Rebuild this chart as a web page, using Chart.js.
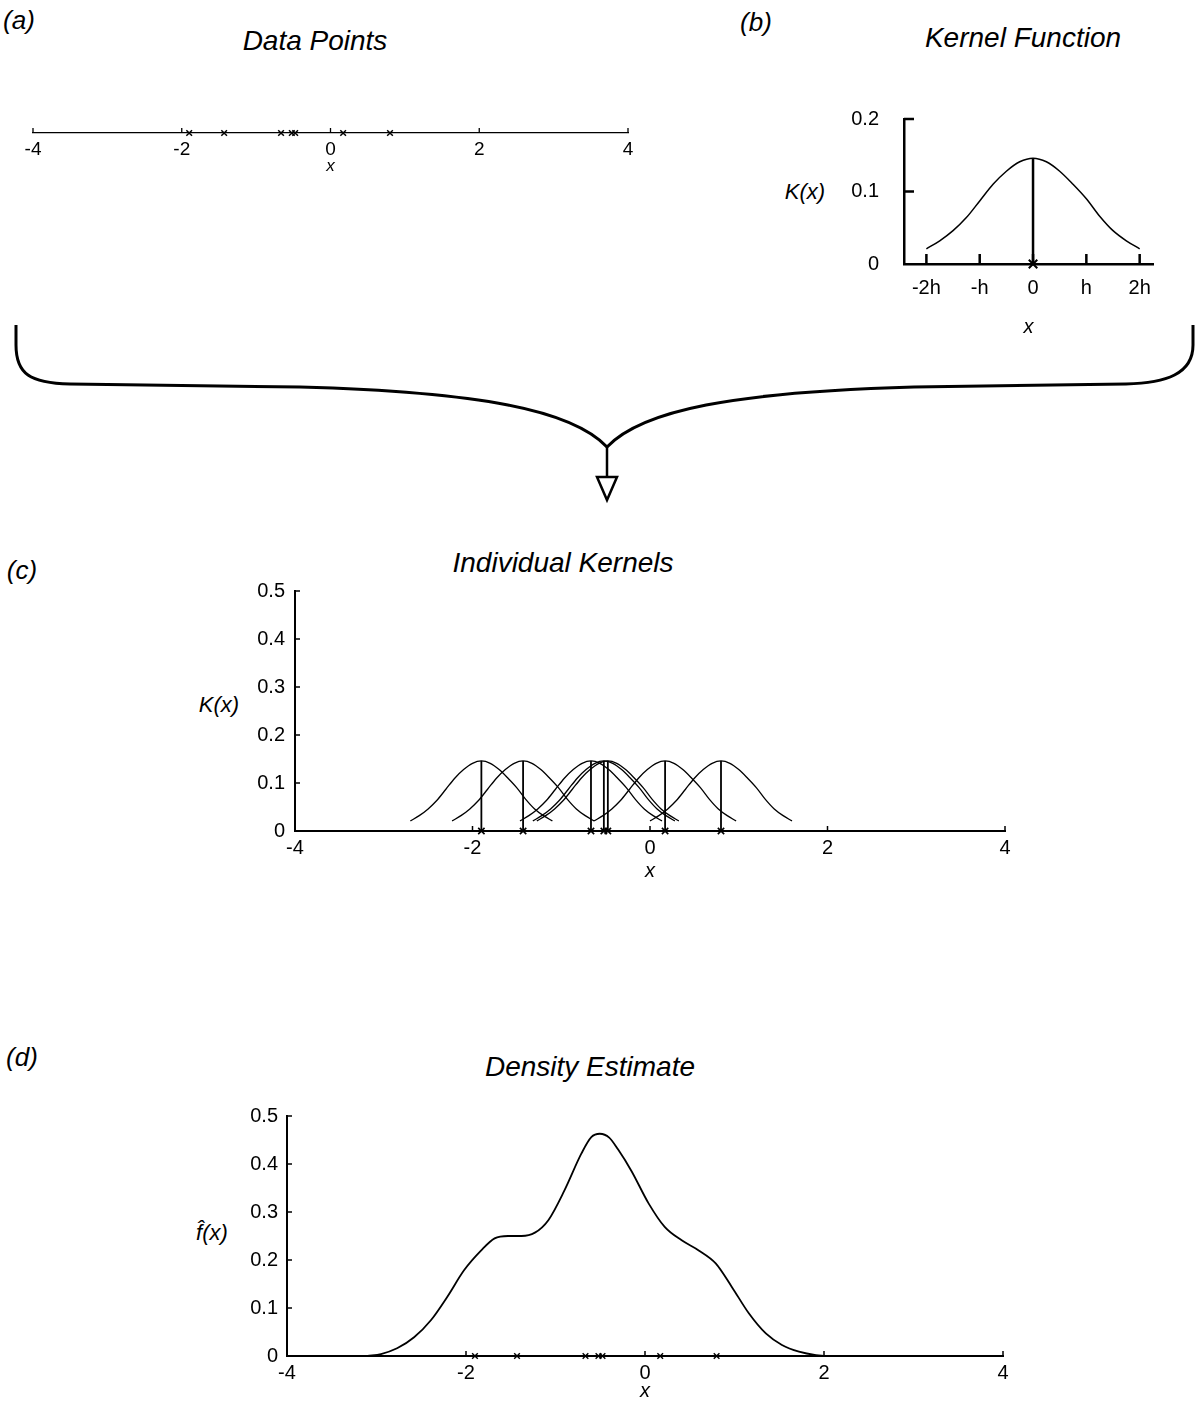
<!DOCTYPE html>
<html>
<head>
<meta charset="utf-8">
<title>Kernel density estimation</title>
<script src="https://cdn.jsdelivr.net/npm/chart.js@4.4.0/dist/chart.umd.min.js"></script>
<style>
  body { margin: 0; background: #fff; }
  #page { position: relative; width: 1196px; height: 1401px; overflow: hidden;
          font-family: 'Liberation Sans', Arial, sans-serif; color: #000; }
  .lbl { position: absolute; font-style: italic; white-space: nowrap; line-height: 1;
         transform: translate(-50%, -50%); }
  .ttl { font-size: 28px; }
  .pnl { font-size: 26px; }
  canvas { position: absolute; }
  svg { position: absolute; left: 0; top: 0; }
</style>
</head>
<body>
<div id="page">
  <div class="lbl pnl" style="left:19px;top:20px">(a)</div>
  <div class="lbl ttl" style="left:315px;top:41px">Data Points</div>
  <div class="lbl pnl" style="left:756px;top:22px">(b)</div>
  <div class="lbl ttl" style="left:1023px;top:38px">Kernel Function</div>
  <div class="lbl" style="left:805px;top:192px;font-size:22px">K(x)</div>
  <div class="lbl pnl" style="left:22px;top:570px">(c)</div>
  <div class="lbl ttl" style="left:563px;top:563px">Individual Kernels</div>
  <div class="lbl" style="left:219px;top:705px;font-size:22px">K(x)</div>
  <div class="lbl pnl" style="left:22px;top:1057px">(d)</div>
  <div class="lbl ttl" style="left:590px;top:1067px">Density Estimate</div>
  <div class="lbl" style="left:212px;top:1233px;font-size:22px">f&#770;(x)</div>

  <!-- brace joining (a) and (b) into (c) -->
  <svg width="1196" height="520">
    <path d="M16,325 L16,345 C16,374 30,383 70,384 L300,387 C480,392 572,410 607,447
             C642,410 734,392 914,387 L1126,384 C1166,383 1193,374 1193,345 L1193,325"
          fill="none" stroke="#000" stroke-width="3"/>
    <line x1="607" y1="447" x2="607" y2="477" stroke="#000" stroke-width="2.5"/>
    <path d="M597,477 L617,477 L607,500 Z" fill="#fff" stroke="#000" stroke-width="2.5"/>
  </svg>

  <canvas id="chartA" width="640" height="82" style="left:10px;top:100px"></canvas>
  <canvas id="chartB" width="340" height="258" style="left:840px;top:82px"></canvas>
  <canvas id="chartC" width="850" height="316" style="left:180px;top:569px"></canvas>
  <canvas id="chartD" width="850" height="306" style="left:180px;top:1095px"></canvas>
</div>
<script>
// the sample: x positions of the crosses
const dataPoints = [-1.9, -1.43, -0.665, -0.52, -0.475, 0.17, 0.8];

// kernel shape; offsets are in units of h
const kernelOffsets = [-2, -1.75, -1.5, -1.25, -1, -0.75, -0.5, -0.25, 0,
                       0.25, 0.5, 0.75, 1, 1.25, 1.5, 1.75, 2];
const kernelValues = [0.021, 0.032, 0.046, 0.064, 0.087, 0.110, 0.128, 0.141, 0.146,
                      0.141, 0.128, 0.110, 0.090, 0.066, 0.046, 0.032, 0.021];
const bandwidth = 0.4;   // h in x units, as seen in panel (c)

// summed density estimate
const densityX = [-3.1, -2.95, -2.77, -2.58, -2.39, -2.21, -2.02, -1.83, -1.68, -1.53,
                  -1.38, -1.23, -1.08, -0.9, -0.71, -0.6, -0.505, -0.4, -0.3, -0.15,
                  0.04, 0.22, 0.41, 0.6, 0.79, 0.97, 1.16, 1.35, 1.53, 1.72, 1.91, 2.1, 2.5];
const densityY = [0, 0.004, 0.016, 0.039, 0.075, 0.123, 0.179, 0.22, 0.245, 0.25,
                  0.25, 0.257, 0.283, 0.345, 0.422, 0.456, 0.463, 0.455, 0.43, 0.385,
                  0.318, 0.269, 0.241, 0.22, 0.193, 0.144, 0.089, 0.047, 0.023, 0.009, 0.002, 0, 0];

const xTicks = [-4, -2, 0, 2, 4];
const kernelTicks = [-2, -1, 0, 1, 2];
const kernelTickLabels = ['-2h', '-h', '0', 'h', '2h'];
const yTicksK = [0, 0.1, 0.2];
const yTicksWide = [0, 0.1, 0.2, 0.3, 0.4, 0.5];

const FONT = "'Liberation Sans', Arial, sans-serif";

// small tick marks drawn inward from the axis lines
const innerTicks = {
  id: 'innerTicks',
  afterDatasetsDraw(chart, args, opts) {
    if (!opts.x && !opts.y) return;
    const ctx = chart.ctx;
    ctx.save();
    ctx.strokeStyle = '#000';
    ctx.lineWidth = opts.width || 1.5;
    ctx.beginPath();
    if (opts.x) {
      const sx = chart.scales.x;
      opts.x.values.forEach(function (v) {
        const px = sx.getPixelForValue(v);
        ctx.moveTo(px, sx.top);
        ctx.lineTo(px, sx.top - opts.x.len);
      });
    }
    if (opts.y) {
      const sy = chart.scales.y;
      opts.y.values.forEach(function (v) {
        const py = sy.getPixelForValue(v);
        ctx.moveTo(sy.right, py);
        ctx.lineTo(sy.right + opts.y.len, py);
      });
    }
    ctx.stroke();
    ctx.restore();
  }
};
Chart.register(innerTicks);

function fixedTicks(values) {
  return function (scale) { scale.ticks = values.map(function (v) { return { value: v }; }); };
}
function decimalLabel(v) { return v === 0 ? '0' : v.toFixed(1); }

function xAxis(o) {
  return {
    type: 'linear', min: o.min, max: o.max,
    afterBuildTicks: fixedTicks(o.ticks),
    afterFit: function (s) { s.height = o.height; },
    grid: { display: false, drawTicks: false },
    border: { display: true, color: '#000', width: o.border },
    ticks: { padding: o.pad, color: '#000', font: { size: o.size, family: FONT },
             maxRotation: 0, autoSkip: false, callback: o.callback || function (v) { return v; } },
    title: { display: true, text: 'x', color: '#000',
             font: { size: o.titleSize, style: 'italic', family: FONT, lineHeight: 1 },
             padding: { top: 0, bottom: o.titlePad } }
  };
}
// note: Chart.js keeps (half label height + tick padding) free above the
// top y tick, so the canvases are placed to allow for that
function yAxis(o) {
  return {
    type: 'linear', min: 0, max: o.max,
    afterBuildTicks: fixedTicks(o.ticks),
    afterFit: function (s) { s.width = o.width; },
    grid: { display: false, drawTicks: false },
    border: { display: true, color: '#000', width: o.border },
    ticks: { padding: o.pad, color: '#000', font: { size: 20, family: FONT },
             callback: decimalLabel }
  };
}
function baseOptions(pad, scales, ticksOpt) {
  return {
    responsive: false, animation: false, events: [],
    layout: { padding: pad },
    scales: scales,
    plugins: { legend: { display: false }, tooltip: { enabled: false }, innerTicks: ticksOpt }
  };
}
function crosses(radius, width) {
  return {
    data: dataPoints.map(function (v) { return { x: v, y: 0 }; }),
    pointStyle: 'crossRot', pointRadius: radius, borderColor: '#000',
    borderWidth: width, showLine: false, clip: false
  };
}

document.addEventListener('DOMContentLoaded', function () {
  // (a) data points on a number line
  new Chart(document.getElementById('chartA'), {
    type: 'scatter',
    data: { datasets: [crosses(4, 1.5)] },
    options: baseOptions({ left: 23, right: 22, top: 12, bottom: 0 }, {
      x: xAxis({ min: -4, max: 4, ticks: xTicks, height: 49, border: 1.3, pad: 5,
                 size: 19, titleSize: 17, titlePad: 7 }),
      y: { display: false, min: 0, max: 1 }
    }, { width: 1.3, x: { values: xTicks, len: 5 } })
  });

  // (b) the kernel function
  const peak = kernelValues[kernelOffsets.indexOf(0)];
  new Chart(document.getElementById('chartB'), {
    type: 'scatter',
    data: { datasets: [
      { data: kernelOffsets.map(function (o, i) { return { x: o, y: kernelValues[i] }; }),
        showLine: true, borderColor: '#000', borderWidth: 1.5, pointRadius: 0,
        cubicInterpolationMode: 'monotone' },
      { data: [{ x: 0, y: peak }, { x: 0, y: 0 }], showLine: true, borderColor: '#000',
        borderWidth: 2.5, pointRadius: 0 },
      { data: [{ x: 0, y: 0 }], pointStyle: 'crossRot', pointRadius: 6, borderColor: '#000',
        borderWidth: 2, showLine: false, clip: false }
    ] },
    options: baseOptions({ left: 0, right: 27, top: 0, bottom: 0 }, {
      x: xAxis({ min: -2.42, max: 2.25, ticks: kernelTicks, height: 76, border: 2.5, pad: 12,
                 size: 20, titleSize: 20, titlePad: 3,
                 callback: function (v) { return kernelTickLabels[kernelTicks.indexOf(v)]; } }),
      y: yAxis({ max: 0.2, ticks: yTicksK, width: 64, border: 2.5, pad: 25 })
    }, { width: 2.5, x: { values: kernelTicks, len: 10 }, y: { values: [0.1, 0.2], len: 10 } })
  });

  // (c) one scaled kernel centred on every data point
  const kernelSets = [];
  dataPoints.forEach(function (p) {
    kernelSets.push({
      data: kernelOffsets.map(function (o, i) { return { x: p + o * bandwidth, y: kernelValues[i] }; }),
      showLine: true, borderColor: '#000', borderWidth: 1.3, pointRadius: 0,
      cubicInterpolationMode: 'monotone'
    });
    kernelSets.push({
      data: [{ x: p, y: 0 }, { x: p, y: peak }], showLine: true, borderColor: '#000',
      borderWidth: 1.8, pointRadius: 0
    });
  });
  kernelSets.push(crosses(4.5, 1.6));
  new Chart(document.getElementById('chartC'), {
    type: 'scatter',
    data: { datasets: kernelSets },
    options: baseOptions({ left: 0, right: 25, top: 0, bottom: 0 }, {
      x: xAxis({ min: -4, max: 4, ticks: xTicks, height: 54, border: 2, pad: 5,
                 size: 20, titleSize: 20, titlePad: 4 }),
      y: yAxis({ max: 0.5, ticks: yTicksWide, width: 115, border: 2, pad: 10 })
    }, { width: 1.5, x: { values: xTicks, len: 5 }, y: { values: yTicksWide, len: 5 } })
  });

  // (d) sum of the kernels: the density estimate
  new Chart(document.getElementById('chartD'), {
    type: 'scatter',
    data: { datasets: [
      { data: densityX.map(function (x, i) { return { x: x, y: densityY[i] }; }),
        showLine: true, borderColor: '#000', borderWidth: 1.8, pointRadius: 0,
        cubicInterpolationMode: 'monotone' },
      crosses(4, 1.4)
    ] },
    options: baseOptions({ left: 0, right: 27, top: 0, bottom: 0 }, {
      x: xAxis({ min: -4, max: 4, ticks: xTicks, height: 45, border: 2, pad: 5,
                 size: 20, titleSize: 20, titlePad: 0 }),
      y: yAxis({ max: 0.5, ticks: yTicksWide, width: 107, border: 2, pad: 9 })
    }, { width: 1.5, x: { values: xTicks, len: 5 }, y: { values: yTicksWide, len: 5 } })
  });
});
</script>
</body>
</html>
